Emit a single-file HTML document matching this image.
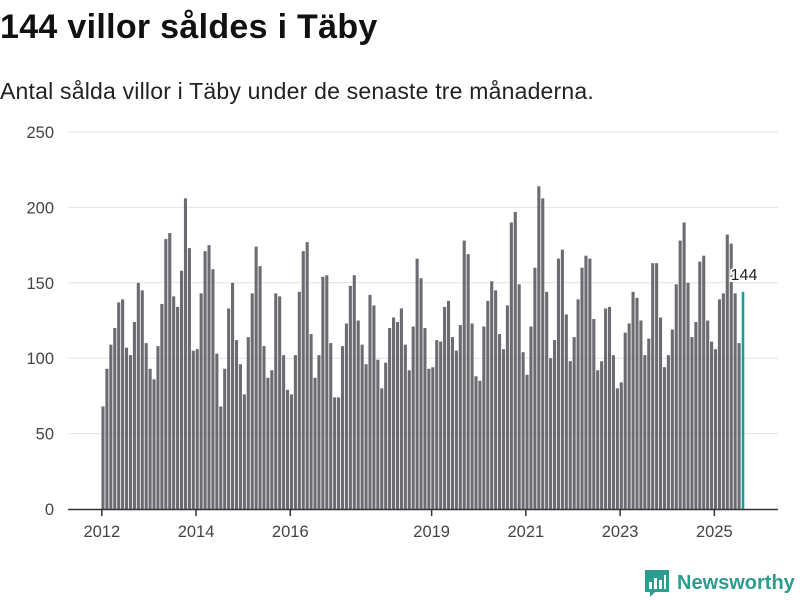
<!DOCTYPE html>
<html><head><meta charset="utf-8"><style>
body{margin:0;background:#fff;width:800px;height:600px;overflow:hidden;font-family:"Liberation Sans",sans-serif}
#title{position:absolute;left:0;top:8px;font-size:34px;font-weight:bold;color:#111;margin:0;letter-spacing:0.3px}
#sub{position:absolute;left:0;top:78px;font-size:23px;color:#222;margin:0;letter-spacing:0.2px}
svg{position:absolute;left:0;top:0}
</style></head><body>
<h1 id="title">144 villor såldes i Täby</h1>
<p id="sub">Antal sålda villor i Täby under de senaste tre månaderna.</p>
<svg id="chart" width="800" height="600"></svg>
<script>
const startYear = 2012;
const values = [68,93,109,120,137,139,107,102,124,150,145,110,93,86,108,136,179,183,141,134,158,206,173,105,
106,143,171,175,159,103,68,93,133,150,112,96,76,114,143,174,
161,108,87,92,143,141,102,79,76,102,144,171,177,116,87,102,154,155,110,74,74,108,123,148,155,125,109,96,142,135,99,80,97,120,127,124,133,109,92,121,166,
153,120,93,94,112,111,134,138,114,105,122,178,169,123,88,85,121,138,151,145,116,106,135,190,197,149,104,89,121,160,214,206,144,100,112,166,172,129,98,114,139,
160,168,166,126,92,98,133,134,102,80,84,117,123,144,140,125,102,113,163,163,127,94,102,119,149,178,190,150,114,124,164,168,125,111,106,139,143,182,176,143,110,144];
const yTicks = [0,50,100,150,200,250];
const xTickYears = [2012,2014,2016,2019,2021,2023,2025];
const lastLabel = "144";

const NS="http://www.w3.org/2000/svg";
const svg=document.getElementById('chart');
const y0=509, yPer=377/250, xL=68, xR=778;
const x0=103, step=(743-103)/(values.length-1);
const yScale=v=>y0-v*yPer;
const xScale=i=>x0+i*step;
function mk(t,a){const e=document.createElementNS(NS,t);for(const k in a)e.setAttribute(k,a[k]);svg.appendChild(e);return e;}
yTicks.forEach(t=>{
  if(t>0){const g=mk('line',{x1:xL,x2:xR,y1:yScale(t),y2:yScale(t),stroke:'#e2e2e2','stroke-width':1});
  
  }
  const l=mk('text',{x:54,y:yScale(t)+6,'text-anchor':'end','font-size':16.5,fill:'#444','font-family':'Liberation Sans, sans-serif'});
  l.textContent=t;
  
  
});
values.forEach((v,i)=>{
  const last=i===values.length-1;
  const w=last?2.6:3.1;
  const r=mk('rect',{x:xScale(i)-w/2,y:yScale(v),width:w,height:v*yPer,fill:last?'#1a9e97':'#6c6b72'});
  
  
});
const ax=mk('line',{x1:xL,x2:xR,y1:y0+0.5,y2:y0+0.5,stroke:'#333','stroke-width':1.5});


xTickYears.forEach(yr=>{
  const x=xScale((yr-startYear)*12-0.3);
  const t=mk('line',{x1:x,x2:x,y1:y0,y2:y0+7,stroke:'#333','stroke-width':1.5});
  
  
  const l=mk('text',{x:x,y:537,'text-anchor':'middle','font-size':16.5,fill:'#444','font-family':'Liberation Sans, sans-serif'});
  l.textContent=yr;
  
  
});
const li=values.length-1;
const lb=mk('text',{x:xScale(li)+1,y:yScale(values[li])-12,'text-anchor':'middle','font-size':16,fill:'#222',stroke:'#fff','stroke-width':4,'paint-order':'stroke','font-family':'Liberation Sans, sans-serif'});
lb.textContent=lastLabel;


</script>
<div style="position:absolute;left:645px;top:570px;display:flex;align-items:center">
  <svg width="24" height="27" style="position:static">
    <path d="M0 0H24V22H10L5 27V22H0Z" fill="#2a9d8f"/>
    <rect x="4" y="12" width="3" height="7" fill="#fff"/><rect x="9" y="8" width="3" height="11" fill="#fff"/><rect x="14" y="10" width="3" height="9" fill="#fff"/><rect x="19" y="5" width="2" height="14" fill="#fff"/>
  </svg>
  <span style="margin-left:8px;font-size:20px;font-weight:bold;color:#2a9d8f">Newsworthy</span>
</div>
</body></html>
